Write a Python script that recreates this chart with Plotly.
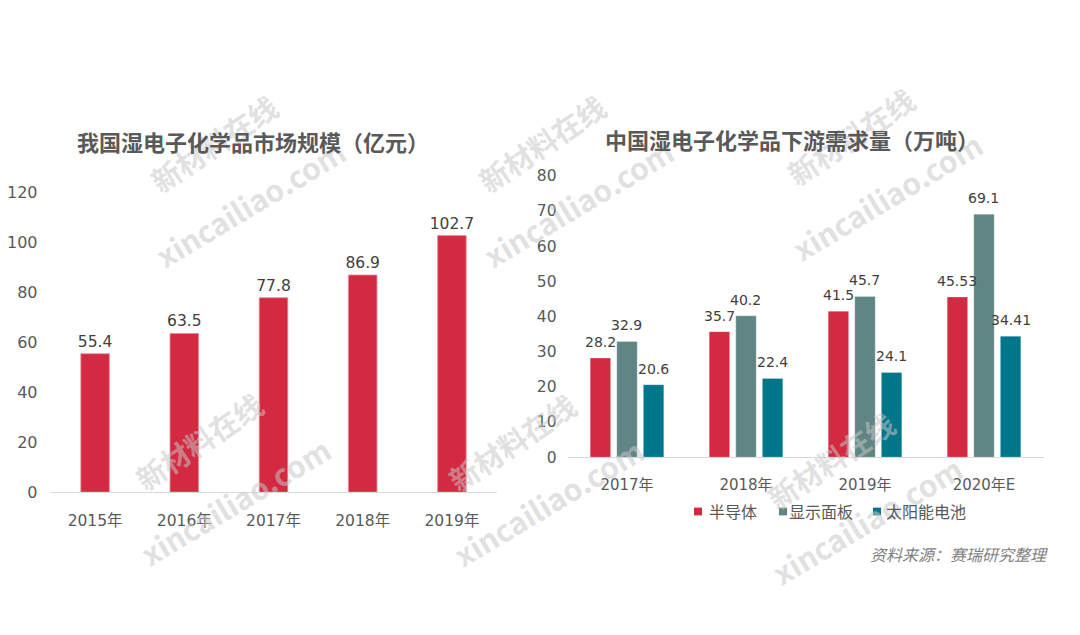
import plotly.graph_objects as go

# ---- data ----
left_years = ["2015年", "2016年", "2017年", "2018年", "2019年"]
left_values = [55.4, 63.5, 77.8, 86.9, 102.7]

right_years = ["2017年", "2018年", "2019年", "2020年E"]
semiconductor = [28.2, 35.7, 41.5, 45.53]
display_panel = [32.9, 40.2, 45.7, 69.1]
solar_cell = [20.6, 22.4, 24.1, 34.41]
right_series_names = ["半导体", "显示面板", "太阳能电池"]
right_label_text = [
    ["28.2", "35.7", "41.5", "45.53"],
    ["32.9", "40.2", "45.7", "69.1"],
    ["20.6", "22.4", "24.1", "34.41"],
]

left_title = "我国湿电子化学品市场规模（亿元）"
right_title = "中国湿电子化学品下游需求量（万吨）"
source_text = "资料来源：赛瑞研究整理"

left_yticks = [0, 20, 40, 60, 80, 100, 120]
right_yticks = [0, 10, 20, 30, 40, 50, 60, 70, 80]

# ---- styles ----
RED = "#D32A41"
GRAY = "#5F8584"
TEAL = "#00768A"
right_colors = [RED, GRAY, TEAL]
TXT = "#595959"
LBL = "#404040"
FONT = "DejaVu Sans, Noto Sans CJK SC, sans-serif"
CJK = "Noto Sans CJK SC, sans-serif"
W, H = 1080, 635
BARGAP = 0.33
RX0, RX1 = 567.5, 1043.5

fig = go.Figure()

fig.add_trace(go.Bar(
    x=left_years, y=left_values, xaxis="x", yaxis="y",
    marker=dict(color=RED, line=dict(color="#E88A96", width=0.8)),
    width=0.32,
    text=[f"{v}" for v in left_values], textposition="outside",
    textfont=dict(family=FONT, size=15.5, color=LBL),
    constraintext="none", cliponaxis=False, showlegend=False,
    hoverinfo="skip",
))

for name, vals, col in zip(right_series_names,
                           [semiconductor, display_panel, solar_cell],
                           right_colors):
    fig.add_trace(go.Bar(
        x=right_years, y=vals, name=name, xaxis="x2", yaxis="y2",
        marker=dict(color=col, line=dict(color="rgba(255,255,255,0.35)", width=0.8)),
        showlegend=False, hoverinfo="skip",
    ))

axis_common = dict(showgrid=False, zeroline=False, fixedrange=True)

fig.update_layout(
    width=W, height=H,
    margin=dict(l=0, r=0, t=0, b=0),
    paper_bgcolor="white", plot_bgcolor="white",
    barmode="group", bargap=BARGAP, bargroupgap=0.23,
    xaxis=dict(domain=[50.5 / W, 496.5 / W], anchor="y", showline=True,
               linecolor="#D9D9D9", linewidth=1, ticks="",
               tickfont=dict(family=FONT, size=15.5, color=TXT),
               ticklabelstandoff=14, **axis_common),
    yaxis=dict(domain=[1 - 498 / H, 1 - 189 / H], anchor="x", range=[0, 120],
               tickvals=left_yticks, showline=False, ticks="",
               tickfont=dict(family=FONT, size=16, color=TXT),
               ticklabelstandoff=12, **axis_common),
    xaxis2=dict(domain=[RX0 / W, RX1 / W], anchor="y2", showline=True,
                linecolor="#D9D9D9", linewidth=1, ticks="",
                tickfont=dict(family=FONT, size=15, color=TXT),
                ticklabelstandoff=14, **axis_common),
    yaxis2=dict(domain=[1 - 462 / H, 1 - 172 / H], anchor="x2", range=[0, 80],
                tickvals=right_yticks, showline=False, ticks="",
                tickfont=dict(family=FONT, size=15.5, color=TXT),
                ticklabelstandoff=10, **axis_common),
    showlegend=False,
    font=dict(family=FONT, color=TXT),
)

annotations = []
shapes = []

# watermarks
wm_pairs = [(250, 200), (578, 200), (887, 193), (235, 507), (548, 508), (867, 527)]
for cx, cy in wm_pairs:
    annotations.append(dict(
        x=(cx - 37) / W, y=1 - (cy - 62) / H, xref="paper", yref="paper",
        xanchor="center", yanchor="middle",
        text="<b>新材料在线</b>", showarrow=False, textangle=-34,
        font=dict(family=CJK, size=29, color="rgba(200,200,200,0.55)")))
    annotations.append(dict(
        x=cx / W, y=1 - cy / H, xref="paper", yref="paper",
        xanchor="center", yanchor="middle",
        text="<b>xincailiao.com</b>", showarrow=False, textangle=-31,
        font=dict(family=CJK, size=30, color="rgba(200,200,200,0.55)")))

# right-chart value labels (placed on the data axes, shifted to each bar of the group)
cat_w = (RX1 - RX0) / len(right_years)
slot = cat_w * (1 - BARGAP) / 3
for k, (vals, txts) in enumerate(zip([semiconductor, display_panel, solar_cell], right_label_text)):
    for xc, v, t in zip(right_years, vals, txts):
        annotations.append(dict(
            x=xc, y=v, xref="x2", yref="y2", text=t, showarrow=False,
            xanchor="center", yanchor="bottom", xshift=(k - 1) * slot, yshift=6,
            font=dict(family=FONT, size=14, color=LBL)))

# custom legend
legend_sq = [(694, 702), (779, 787), (873, 881)]
legend_tx = [707, 787, 884]
for (x0, x1), tx, name, col in zip(legend_sq, legend_tx, right_series_names, right_colors):
    shapes.append(dict(type="rect", xref="paper", yref="paper",
                       x0=x0 / W, x1=x1 / W, y0=1 - 522 / H, y1=1 - 514 / H,
                       fillcolor=col, line=dict(width=0)))
    annotations.append(dict(x=tx / W, y=1 - 517 / H, xref="paper", yref="paper",
                            text=name, showarrow=False, xanchor="left", yanchor="middle",
                            font=dict(family=CJK, size=16, color=TXT)))

annotations += [
    dict(x=253 / W, y=1 - 136 / H, xref="paper", yref="paper", text=f"<b>{left_title}</b>",
         showarrow=False, xanchor="center", yanchor="middle",
         font=dict(family=CJK, size=22, color=TXT)),
    dict(x=792 / W, y=1 - 134 / H, xref="paper", yref="paper", text=f"<b>{right_title}</b>",
         showarrow=False, xanchor="center", yanchor="middle",
         font=dict(family=CJK, size=22, color=TXT)),
    dict(x=1050 / W, y=1 - 562 / H, xref="paper", yref="paper", text=f"<i>{source_text}</i>",
         showarrow=False, xanchor="right", yanchor="middle",
         font=dict(family=CJK, size=16, color="#7F7F7F")),
]
fig.update_layout(annotations=annotations, shapes=shapes)

fig.write_html("out.html", config={"displayModeBar": False, "staticPlot": True},
               post_script="document.body.style.margin='0';")
